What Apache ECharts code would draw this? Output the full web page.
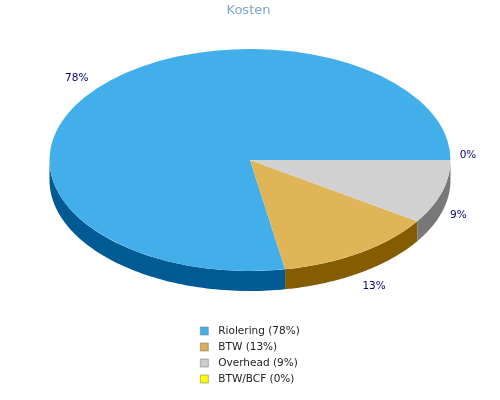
<!DOCTYPE html>
<html><head><meta charset="utf-8">
<style>html,body{margin:0;padding:0;background:#fff}#c{width:500px;height:400px}</style>
<script src="https://cdn.jsdelivr.net/npm/echarts@6/dist/echarts.min.js"></script>
</head><body><div id="c"></div>
<script>
const names = ['Riolering', 'BTW', 'Overhead', 'BTW/BCF'];
const values = [77.8, 12.9, 9.3, 0];
const topColors = ['#42AEEA', '#DFB557', '#D1D1D1', '#FFFF00'];
const sideColors = ['#005A94', '#855C00', '#787878', '#808000'];
const legendColors = ['#42AEEA', '#D9AE55', '#CCCCCC', '#FFFF00'];

const P = {cx: 250, cy: 160, rx: 200.5, ry: 111, depth: 20};
const labelNudge = [[0, 0], [0, -1], [-8, 0], [-8, -5]];

const total = values.reduce((a, b) => a + b, 0);
const pct = v => Math.round(v / total * 100) + '%';

// slices run clockwise from 3 o'clock, in reverse list order
const spans = [];
let acc = 0;
for (let i = values.length - 1; i >= 0; i--) {
  const a0 = acc / total * Math.PI * 2;
  acc += values[i];
  spans[i] = [a0, acc / total * Math.PI * 2];
}

function render(i) {
  return function () {
    const [a0, a1] = spans[i];
    const children = [];
    const s0 = Math.min(a0, Math.PI), s1 = Math.min(a1, Math.PI);
    if (s1 > s0) {
      const top = [], bottom = [];
      const n = 80;
      for (let k = 0; k <= n; k++) {
        const t = s0 + (s1 - s0) * k / n;
        const x = P.cx + P.rx * Math.cos(t), y = P.cy + P.ry * Math.sin(t);
        top.push([x, y]);
        bottom.unshift([x, y + P.depth]);
      }
      children.push({type: 'polygon', shape: {points: top.concat(bottom)}, style: {fill: sideColors[i]}});
    }
    if (a1 > a0) {
      children.push({
        type: 'sector',
        shape: {cx: P.cx, cy: P.cy, r: P.rx, r0: 0, startAngle: a0, endAngle: a1, clockwise: true},
        originX: P.cx, originY: P.cy, scaleY: P.ry / P.rx,
        style: {fill: topColors[i]}
      });
    }
    const mid = (a0 + a1) / 2, c = Math.cos(mid), sn = Math.sin(mid);
    children.push({
      type: 'text',
      x: P.cx + 226 * c + labelNudge[i][0],
      y: P.cy + 128 * sn + (sn > 0.5 ? 20 : sn > 0 ? 18 : 0) + labelNudge[i][1],
      z2: 10,
      style: {text: pct(values[i]), fill: '#000080', font: '10.5px "DejaVu Sans"', align: 'center', verticalAlign: 'middle'}
    });
    return {type: 'group', children};
  };
}

const chart = echarts.init(document.getElementById('c'), null, {renderer: 'canvas'});
chart.setOption({
  animation: false,
  backgroundColor: '#fff',
  title: {text: 'Kosten', left: 243.5, top: -1, textAlign: 'center',
    textStyle: {color: '#7FA6D0', fontFamily: 'DejaVu Sans', fontSize: 13, fontWeight: 'normal', letterSpacing: 1.1}},
  legend: {
    orient: 'vertical', left: 195, top: 320.5, itemWidth: 8, itemHeight: 8, itemGap: 5, icon: 'rect',
    selectedMode: false, data: names,
    itemStyle: {borderWidth: 0.6, borderColor: '#808080'},
    formatter: n => n + ' (' + pct(values[names.indexOf(n)]) + ')',
    textStyle: {color: '#222', fontFamily: 'DejaVu Sans', fontSize: 10.5, padding: [0, 0, 0, 5]}
  },
  series: names.map((n, i) => ({
    type: 'custom', name: n, coordinateSystem: 'none', silent: true,
    itemStyle: {color: legendColors[i]},
    data: [values[i]],
    renderItem: render(i)
  }))
});
</script></body></html>
